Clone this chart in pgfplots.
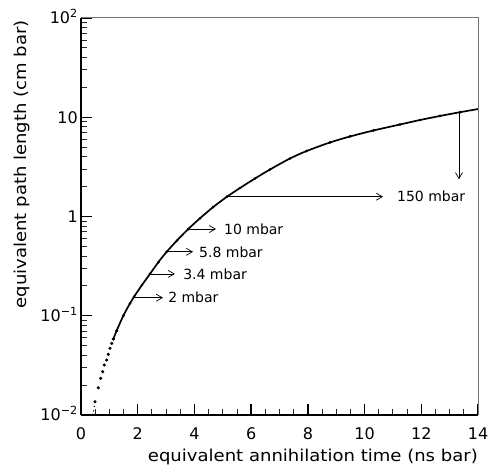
\documentclass[border=0pt]{standalone}
\usepackage{pgfplots}
\pgfplotsset{compat=1.18}
\usepackage{pgfplotstable}
\usepackage{fontspec}
\setmainfont{DejaVu Sans}
\newfontfamily\titlefont{DejaVu Sans}[FakeStretch=1.1]
\usetikzlibrary{arrows.meta}

\pgfplotstableread{
x y
0.494 0.0136
0.610 0.0188
0.695 0.0234
0.765 0.0273
0.822 0.0319
0.906 0.0358
0.963 0.0409
1.023 0.0470
1.083 0.0527
1.139 0.0583
1.259 0.0708
}\lowdots

\pgfplotstableread{
x y
0.420 0.0102
0.445 0.0110
0.470 0.0122
}\tinydots

\pgfplotstableread{
x y
1.139 0.0583
1.259 0.0708
1.492 0.100
1.728 0.1334
1.869 0.155
2.150 0.204
2.433 0.264
2.730 0.347
3.022 0.441
3.385 0.573
3.784 0.748
4.197 0.960
4.655 1.240
5.149 1.583
5.607 1.937
6.136 2.414
6.665 2.976
7.370 3.84
7.959 4.57
8.781 5.57
9.486 6.40
10.308 7.35
11.249 8.45
11.955 9.38
12.660 10.30
13.365 11.24
14.011 12.11
}\curve

\begin{document}
\begin{tikzpicture}
\path[use as bounding box] (-81pt,-53pt) rectangle (408pt,415pt);
\begin{axis}[
  at={(0,0)}, anchor=south west,
  scale only axis, width=397pt, height=397pt,
  xmin=0, xmax=14, ymin=0.01, ymax=100, ymode=log,
  axis lines=left,
  axis line style={-, line width=2pt, black},
  xtick={0,2,...,14}, minor x tick num=3,
  ytick={0.01,0.1,1,10,100},
  minor ytick={0.02,0.03,0.04,0.05,0.06,0.07,0.08,0.09,
               0.2,0.3,0.4,0.5,0.6,0.7,0.8,0.9,
               2,3,4,5,6,7,8,9,
               20,30,40,50,60,70,80,90},
  yticklabels={10\textsuperscript{−2}, 10\textsuperscript{−1}, 1\hspace{13pt}, 10\hspace{10pt}, 10\textsuperscript{2}\hspace{17pt}},
  tick align=inside,
  major tick length=11pt, minor tick length=6pt,
  major tick style={line width=1.4pt, black},
  minor tick style={line width=0.9pt, black!85},
  /pgf/number format/assume math mode=true,
  ticklabel style={font=\fontsize{16}{16}\selectfont, inner sep=0pt},
  xticklabel style={anchor=north, yshift=-12.7pt},
  yticklabel style={anchor=base east, xshift=-3pt, yshift=-5.85pt},
  clip mode=individual,
]
\addplot[only marks, mark=*, mark size=0.45pt, black] table {\tinydots};
\addplot[only marks, mark=*, mark size=1.4pt, black] table {\lowdots};
\addplot[line width=1.7pt, black, smooth, tension=0.5] table {\curve};
\addplot[only marks, mark=*, mark size=1.2pt, black] table {\curve};

\draw[line width=1pt, black!55] (rel axis cs:0,1) -- (rel axis cs:1,1) -- (rel axis cs:1,0);

\begin{scope}[line width=0.7pt, -{Straight Barb[length=6pt,width=7pt]}]
\draw (axis cs:1.869,0.152) -- (axis cs:2.89,0.152);
\draw (axis cs:2.433,0.264) -- (axis cs:3.31,0.264);
\draw (axis cs:3.022,0.441) -- (axis cs:3.95,0.441);
\draw (axis cs:3.784,0.748) -- (axis cs:4.76,0.748);
\draw (axis cs:5.149,1.583) -- (axis cs:10.65,1.583);
\draw (axis cs:13.33,11.2) -- (axis cs:13.33,2.37);
\end{scope}
\begin{scope}[every node/.style={anchor=west, inner sep=0pt, font=\fontsize{14}{14}\selectfont}]
\node at (axis cs:3.07,0.152) {2 mbar};
\node at (axis cs:3.60,0.264) {3.4 mbar};
\node at (axis cs:4.16,0.441) {5.8 mbar};
\node at (axis cs:5.04,0.748) {10 mbar};
\node at (axis cs:11.14,1.583) {150 mbar};
\end{scope}

\node[anchor=base east, inner sep=0pt, font=\titlefont\fontsize{16.4}{16.4}\selectfont]
  at ([yshift=-46.7pt]rel axis cs:1,0) {equivalent annihilation time (ns bar)};
\node[rotate=90, anchor=base east, inner sep=0pt, font=\titlefont\fontsize{16.4}{16.4}\selectfont]
  at ([xshift=-54pt,yshift=-2pt]rel axis cs:0,1) {equivalent path length (cm bar)};
\end{axis}
\end{tikzpicture}
\end{document}
